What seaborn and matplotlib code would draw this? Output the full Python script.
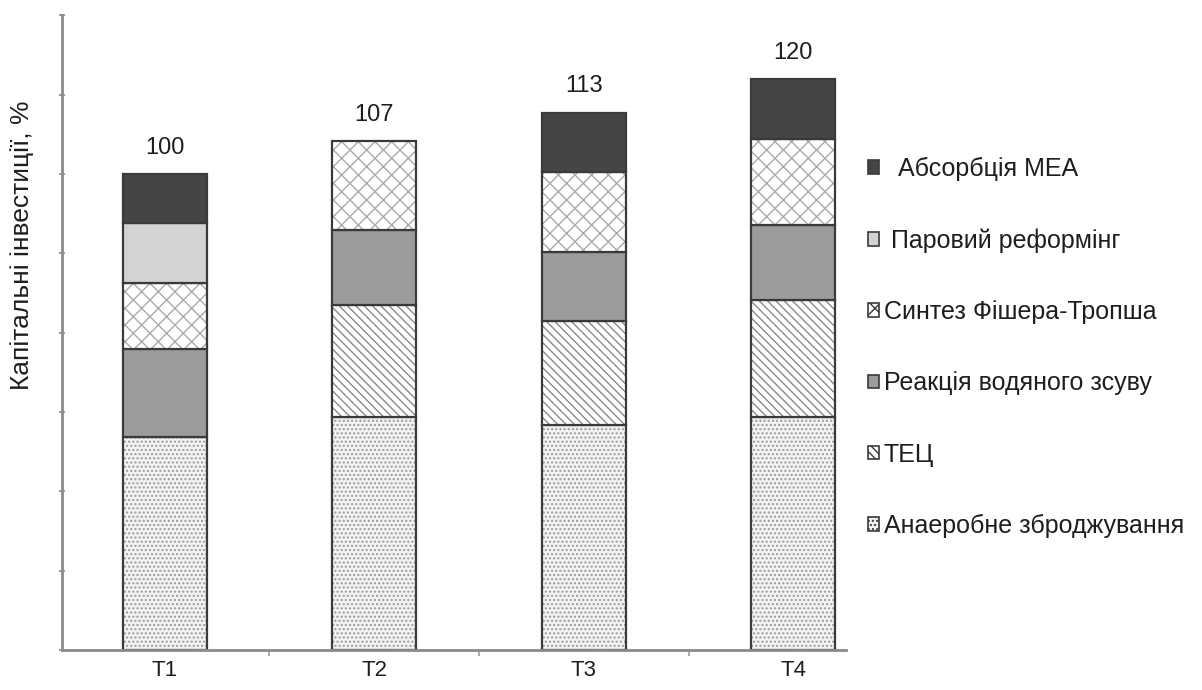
import numpy as np
import pandas as pd
import matplotlib
matplotlib.use("Agg")
import matplotlib.pyplot as plt
from matplotlib.patches import Patch
import seaborn as sns

# Scenario names and capital-investment shares per process unit (% of T1)
scenarios = ["T1", "T2", "T3", "T4"]
anaerobic_digestion = [44.8, 49.0, 47.4, 49.1]
chp_plant = [0.0, 23.6, 21.7, 24.4]
water_gas_shift = [18.5, 15.8, 14.6, 15.9]
fischer_tropsch = [13.8, 18.6, 16.9, 18.1]
steam_reforming = [12.7, 0.0, 0.0, 0.0]
mea_absorption = [10.2, 0.0, 12.4, 12.5]

segment_labels = [
    "Анаеробне зброджування",
    "ТЕЦ",
    "Реакція водяного зсуву",
    "Синтез Фішера-Тропша",
    " Паровий реформінг",
    "  Абсорбція МЕА",
]
segment_values = [anaerobic_digestion, chp_plant, water_gas_shift,
                  fischer_tropsch, steam_reforming, mea_absorption]

# fill colour, hatch pattern, hatch colour for each process unit
styles = [
    ("#f2f2f2", "....", "#9a9a9a"),
    ("#ffffff", "\\\\\\\\", "#8a8a8a"),
    ("#9c9c9c", "", "#9c9c9c"),
    ("#ffffff", "xx", "#aaaaaa"),
    ("#d3d3d3", "", "#d3d3d3"),
    ("#454545", "", "#454545"),
]

sns.set_theme(style="white")
plt.rcParams["font.family"] = ["Liberation Sans", "DejaVu Sans"]
plt.rcParams["hatch.linewidth"] = 1.0

fig = plt.figure(figsize=(12.02, 6.90), dpi=100)
ax = fig.add_axes([0.0516, 0.058, 0.652, 0.920])

edge_dark = "#3a3a3a"
text_dark = "#1e1e1e"
bar_width = 0.40
bottoms = np.zeros(len(scenarios))
for vals, (fc, hatch, hc) in zip(segment_values, styles):
    vals = np.asarray(vals, dtype=float)
    df = pd.DataFrame({"scenario": scenarios, "value": vals})
    n_before = len(ax.patches)
    sns.barplot(data=df, x="scenario", y="value", bottom=bottoms,
                color=fc, width=bar_width, errorbar=None, ax=ax,
                hatch=hatch, edgecolor=hc, linewidth=0, saturation=1)
    for p, v in zip(ax.patches[n_before:], vals):
        p.set_facecolor(fc)
        if v <= 0:
            p.set_visible(False)
    # dark outline on top of each segment
    n_before = len(ax.patches)
    sns.barplot(data=df, x="scenario", y="value", bottom=bottoms,
                width=bar_width, errorbar=None, ax=ax, fill=False,
                color=edge_dark, linewidth=1.6)
    for p, v in zip(ax.patches[n_before:], vals):
        p.set_edgecolor(edge_dark)
        p.set_facecolor("none")
        if v <= 0:
            p.set_visible(False)
    bottoms = bottoms + vals

# totals above the stacks
for i, tot in enumerate(bottoms):
    ax.text(i, tot + 3.2, f"{tot:.0f}", ha="center", va="bottom",
            fontsize=17, color=text_dark)

ymax = 133.5
ax.set_xlim(-0.49, 3.25)
ax.set_ylim(0, ymax)
ax.set_yticks(np.linspace(0, ymax, 9))
ax.set_yticklabels([])
ax.tick_params(axis="y", which="major", length=5, width=1.2,
               direction="inout", color="#8a8a8a", left=True)
ax.set_xticks(range(len(scenarios)))
ax.set_xticklabels(scenarios, fontsize=16, color=text_dark)
ax.set_xticks([0.5, 1.5, 2.5], minor=True)
ax.tick_params(axis="x", which="major", length=0, pad=7)
ax.tick_params(axis="x", which="minor", length=4, width=1.2,
               direction="out", color="#9a9a9a", bottom=True)
ax.set_xlabel("")
ax.set_ylabel("Капітальні інвестиції, %", fontsize=19, color=text_dark)
ax.yaxis.set_label_coords(-0.036, 0.638)

for side in ("top", "right"):
    ax.spines[side].set_visible(False)
for side in ("left", "bottom"):
    ax.spines[side].set_color("#8a8a8a")
    ax.spines[side].set_linewidth(2.0)

handles = []
for (fc, hatch, hc), lab in zip(styles, segment_labels):
    handles.append(Patch(facecolor=fc, edgecolor=edge_dark, hatch=hatch,
                         linewidth=1.2, label=lab))
fig.legend(handles=handles[::-1], loc="upper left",
           bbox_to_anchor=(0.703, 0.805), frameon=False, fontsize=18,
           handlelength=0.45, handleheight=0.45, handletextpad=0.2,
           labelspacing=1.89, labelcolor=text_dark)

fig.savefig("out.png", dpi=100, facecolor="white")
